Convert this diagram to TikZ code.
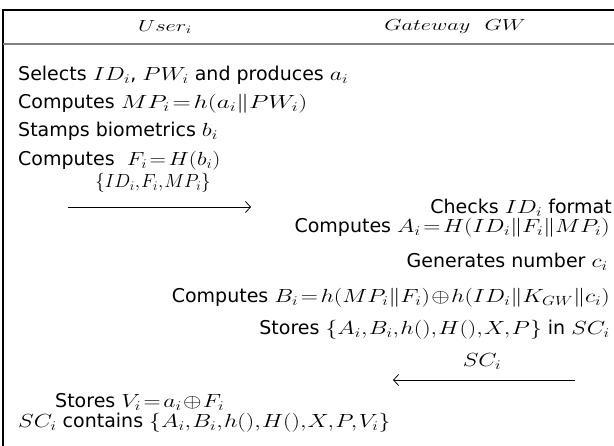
\RequirePackage{fix-cm}
\documentclass[tikz,border=0pt]{standalone}
\usepackage{graphicx}
\usepackage{fontspec}
\setmainfont{DejaVu Sans}
\usetikzlibrary{arrows.meta}
\newcommand\mm[2][1.25]{\scalebox{#1}[1]{\fontsize{19}{21}\selectfont$\thickmuskip=2mu\medmuskip=1mu\thinmuskip=1mu #2$}}
\newcommand\hh[1]{\scalebox{1.4}[1]{\fontsize{16}{19}\selectfont$#1$}}
\begin{document}
\begin{tikzpicture}[x=1pt,y=-1pt,
  every node/.style={font=\fontsize{19}{22}\selectfont, inner sep=0pt},
  msg/.style={line width=0.7pt, -{Straight Barb[length=5pt,width=11pt,line width=0.8pt]}},
  lt/.style={anchor=base west},
  rt/.style={anchor=base east}]
\useasboundingbox (0,0) rectangle (614,446);
\draw[line width=1.1pt] (614,10) -- (3,10) -- (3,446);
\draw[gray, line width=1.2pt] (3,44) -- (614,44);
\node (user) at (165,27) {\hh{User_i}};
\node (gw) at (455,27) {\hh{Gateway\ \ GW}};
% user side
\node[lt] (s1) at (18,81) {Selects \mm{ID_i}, \mm{PW_i} and produces \mm{a_i}};
\node[lt] (s2) at (18,109) {Computes \mm[1.33]{MP_i = h(a_i \| PW_i)}};
\node[lt] (s3) at (18,137) {Stamps biometrics \mm{b_i}};
\node[lt] (s4) at (18,166) {Computes \ \mm[1.2]{F_i = H(b_i)}};
\coordinate (m1s) at (68,207);
\coordinate (m1e) at (251,207);
\draw[msg] (m1s) -- (m1e);
\node[anchor=base] (m1) at (153,188) {\mm[1.0]{\{ID_i, F_i, MP_i\}}};
% gateway side
\node[rt] (g1) at (612,214) {Checks \mm{ID_i} format};
\node[rt] (g2) at (610,233) {Computes \mm{A_i = H(ID_i \| F_i \| MP_i)}};
\node[rt] (g3) at (608,268) {Generates number \mm{c_i}};
\node[rt] (g4) at (610,303) {Computes \mm{B_i = h(MP_i \| F_i) \oplus h(ID_i \| K_{GW} \| c_i)}};
\node[rt] (g5) at (610,335) {Stores \mm{\{A_i, B_i, h(), H(), X, P\}} in \mm{SC_i}};
\coordinate (m2s) at (575,380);
\coordinate (m2e) at (393,380);
\draw[msg] (m2s) -- (m2e);
\node[anchor=base] (m2) at (482,367) {\mm{SC_i}};
% user side end
\node[lt] (s5) at (55,408) {Stores \mm{V_i = a_i \oplus F_i}};
\node[lt] (s6) at (18,428) {\mm{SC_i} contains \mm{\{A_i, B_i, h(), H(), X, P, V_i\}}};
\end{tikzpicture}
\end{document}
